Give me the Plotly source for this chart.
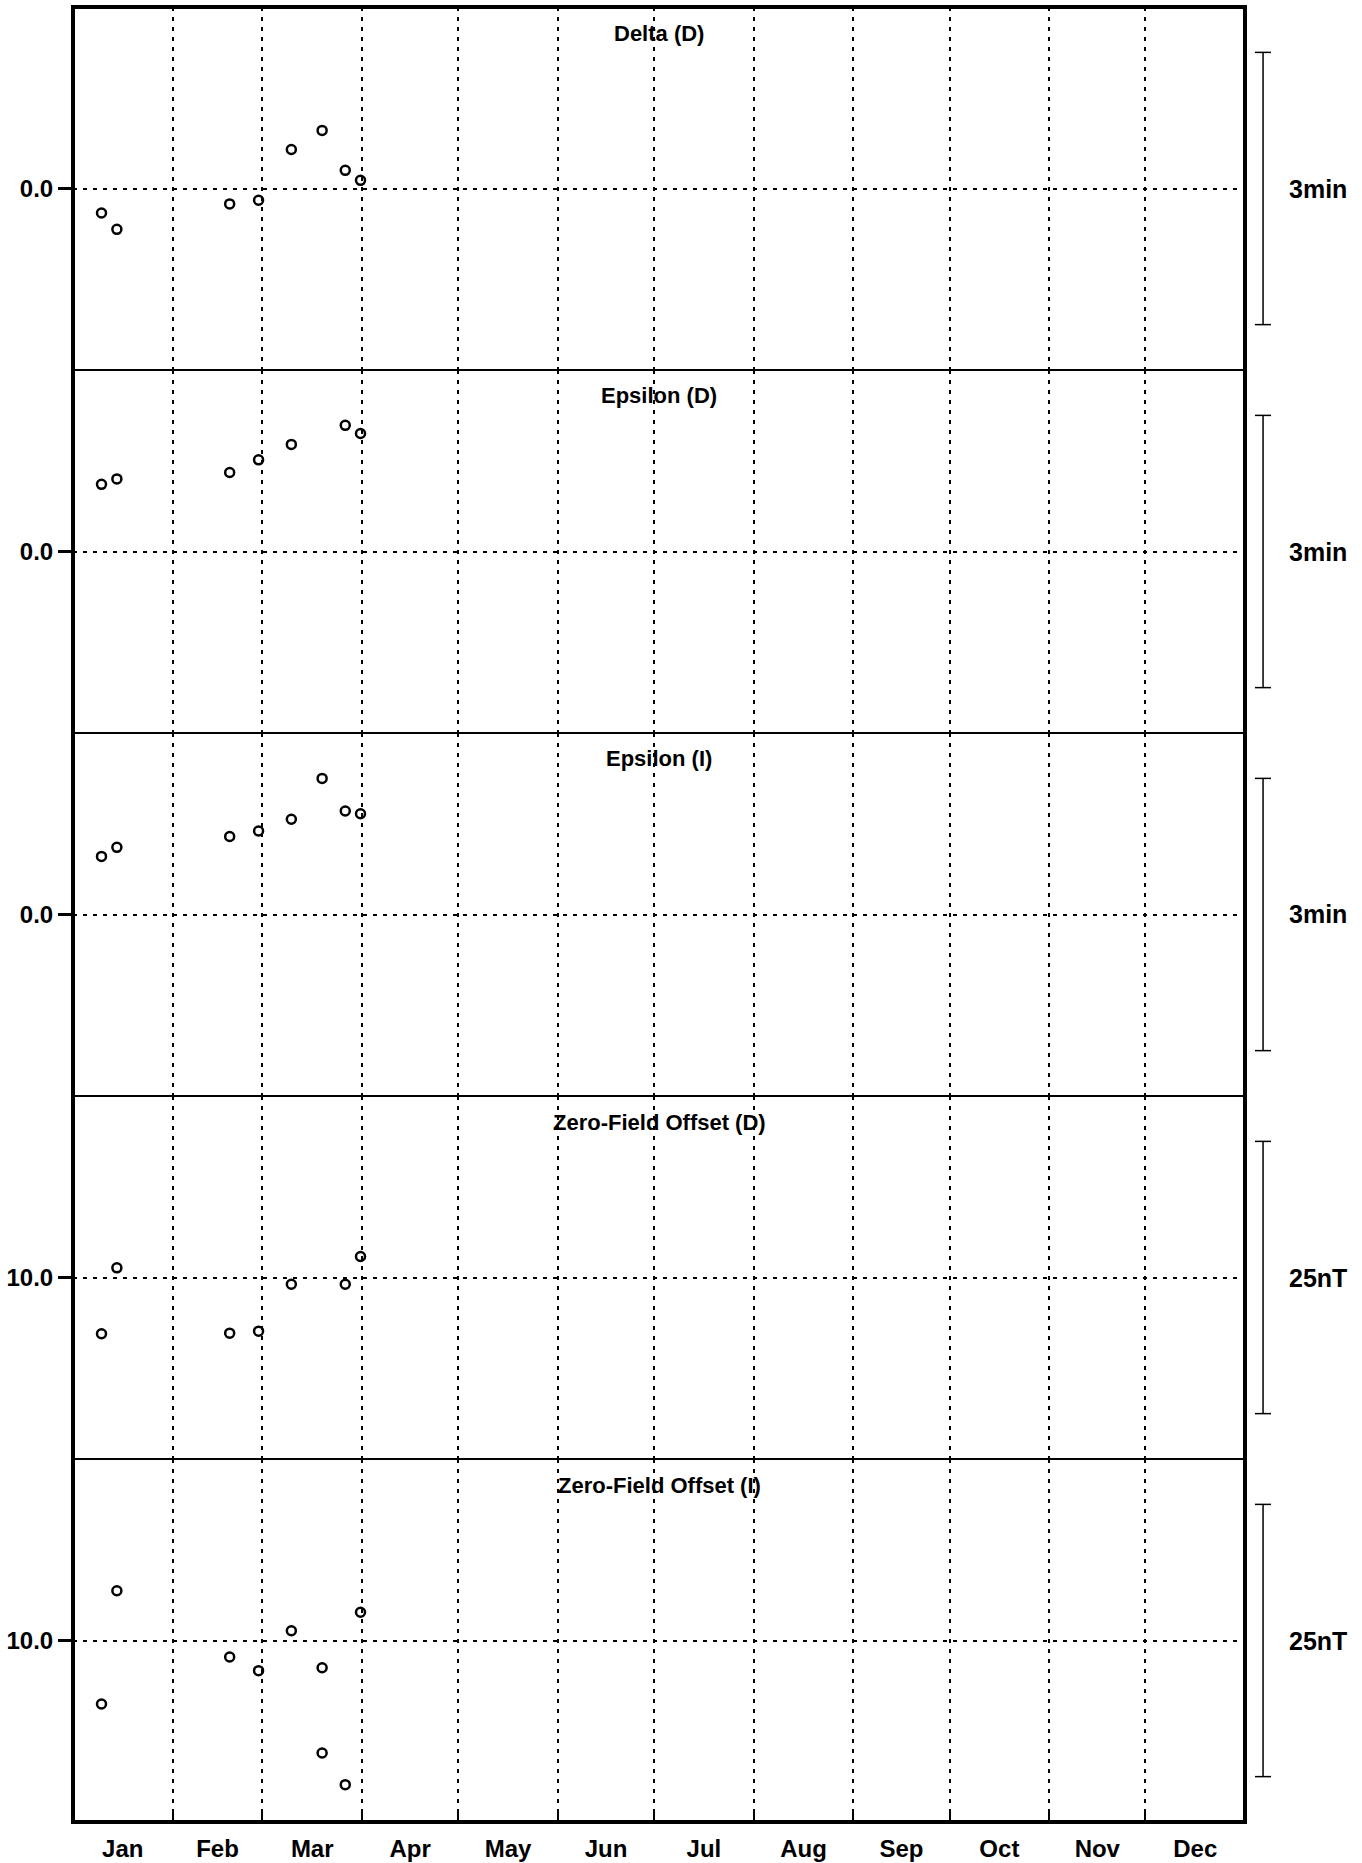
"""
Baseline drift panels: stacked scatter plots with monthly grid and scale bars
"""

import plotly.graph_objects as go
from plotly.subplots import make_subplots

# Observation dates (non-leap year)
obs_dates = ["2015-01-09 21:00", "2015-01-14 16:00", "2015-02-18 19:00", "2015-02-27 19:00",
             "2015-03-10 00:00", "2015-03-19 14:00", "2015-03-26 19:00", "2015-03-31 13:00"]

# Panel values (None = no observation)
delta_d = [-0.27, -0.45, -0.17, -0.13, 0.43, 0.64, 0.20, 0.09]
epsilon_d = [0.74, 0.80, 0.87, 1.01, 1.18, None, 1.39, 1.30]
epsilon_i = [0.64, 0.74, 0.86, 0.92, 1.05, 1.50, 1.14, 1.11]
zfo_d = [4.83, 10.89, 4.89, 5.07, 9.38, None, 9.38, 11.93]

zfo_i_dates = obs_dates + ["2015-03-19 14:00"]
zfo_i = [4.17, 14.57, 8.48, 7.23, 10.90, 7.50, -3.24, 12.59, -0.33]

panel_titles = ["Delta (D)", "Epsilon (D)", "Epsilon (I)", "Zero-Field Offset (D)", "Zero-Field Offset (I)"]
panel_dates = [obs_dates, obs_dates, obs_dates, obs_dates, zfo_i_dates]
panel_values = [delta_d, epsilon_d, epsilon_i, zfo_d, zfo_i]
panel_centers = [0.0, 0.0, 0.0, 10.0, 10.0]
center_labels = ["0.0", "0.0", "0.0", "10.0", "10.0"]
scale_sizes = [3.0, 3.0, 3.0, 25.0, 25.0]
scale_labels = ["3min", "3min", "3min", "25nT", "25nT"]

FONT = "Liberation Sans, Arial, sans-serif"
GRID_DASH = "4px,6px"
n = len(panel_titles)

fig = make_subplots(rows=n, cols=1, shared_xaxes=True, vertical_spacing=0)

for i in range(n):
    row = i + 1
    fig.add_trace(
        go.Scatter(
            x=panel_dates[i],
            y=panel_values[i],
            mode="markers",
            marker=dict(symbol="circle-open", size=9, color="black",
                        line=dict(width=2.5, color="black")),
            showlegend=False,
            hovertemplate="%{x}<br>%{y:.2f}<extra></extra>",
        ),
        row=row, col=1,
    )

    # half range so that the scale bar covers 3/4 of the panel
    half = scale_sizes[i] / 1.5
    c = panel_centers[i]
    fig.update_yaxes(
        range=[c - half, c + half],
        tickvals=[c], ticktext=[f"<b>{center_labels[i]}</b>"],
        ticks="outside", ticklen=14, tickwidth=2.5, tickcolor="black",
        showgrid=True, gridcolor="black", griddash=GRID_DASH, gridwidth=2,
        zeroline=False, showline=False, automargin=False, fixedrange=True,
        tickfont=dict(family=FONT, size=24, color="black"),
        row=row, col=1,
    )
    fig.update_xaxes(
        type="date", range=["2015-01-01", "2016-01-01"],
        dtick="M1", tick0="2015-01-01", tickformat="<b>%b</b>", ticklabelmode="period",
        showgrid=True, gridcolor="black", griddash=GRID_DASH, gridwidth=2,
        zeroline=False, showline=False, automargin=False,
        ticks="inside" if row == n else "", ticklen=10, tickwidth=2, tickcolor="black",
        showticklabels=(row == n), ticklabelstandoff=10,
        tickfont=dict(family=FONT, size=24, color="black"),
        row=row, col=1,
    )

    yref = "y" if row == 1 else f"y{row}"
    # scale bar on the right
    bar_lo, bar_hi = c - scale_sizes[i] / 2, c + scale_sizes[i] / 2
    fig.add_shape(type="line", xref="paper", yref=yref, x0=1.0154, x1=1.0154,
                  y0=bar_lo, y1=bar_hi, line=dict(color="black", width=1.5))
    for yy in (bar_lo, bar_hi):
        fig.add_shape(type="line", xref="paper", yref=yref, x0=1.0085, x1=1.0222,
                      y0=yy, y1=yy, line=dict(color="black", width=1.5))
    fig.add_annotation(xref="paper", yref=yref, x=1.0623, y=c,
                       text=f"<b>{scale_labels[i]}</b>", showarrow=False,
                       font=dict(family=FONT, size=25, color="black"),
                       xanchor="center", yanchor="middle")

    # panel title
    fig.add_annotation(xref="paper", yref=f"{yref} domain", x=0.5, y=1, yshift=-26,
                       text=f"<b>{panel_titles[i]}</b>", showarrow=False,
                       font=dict(family=FONT, size=22, color="black"),
                       xanchor="center", yanchor="middle")

    # separator between panels
    if row > 1:
        fig.add_shape(type="line", xref="paper", yref=f"{yref} domain", x0=0, x1=1,
                      y0=1, y1=1, line=dict(color="black", width=2))

# outer frame
fig.add_shape(type="rect", xref="paper", yref="paper", x0=0, x1=1, y0=0, y1=1,
              line=dict(color="black", width=4))

fig.update_layout(
    width=1362,
    height=1863,
    margin=dict(l=73, r=117, t=7, b=41),
    plot_bgcolor="white",
    paper_bgcolor="white",
    font=dict(family=FONT, color="black"),
    showlegend=False,
)

# drop the default page margin so the figure sits at the window origin
fig.write_html("out.html", config={"displayModeBar": False},
               post_script="document.body.style.margin = '0';")
